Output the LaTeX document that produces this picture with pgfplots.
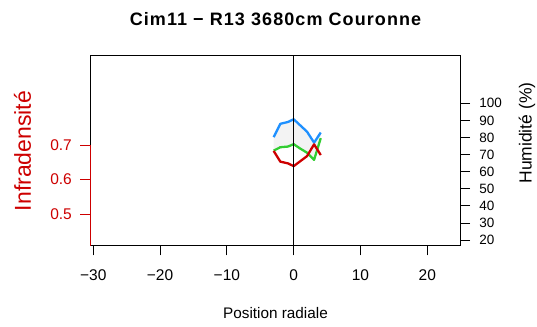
\documentclass[border=0pt]{standalone}
\usepackage{pgfplots}
\pgfplotsset{compat=1.18}
\usepackage{fontspec}
\setmainfont{Liberation Sans}
\definecolor{rred}{HTML}{CD0000}
\definecolor{rblue}{HTML}{1E90FF}
\definecolor{rgreen}{HTML}{32CD32}
\definecolor{fillgray}{HTML}{F3F3F3}
\begin{document}
\begin{tikzpicture}[x=1pt,y=1pt]
\path[use as bounding box] (0,0) rectangle (537,326);
% humidity axis (right)
\begin{axis}[
  at={(90pt,80pt)}, anchor=south west,
  scale only axis, width=370.7pt, height=190pt,
  xmin=-30.49, xmax=25, ymin=16.5, ymax=127.7,
  axis line style={black, line width=1pt},
  xtick={-30,-20,-10,0,10,20},
  xticklabels={−30,−20,−10,0,10,20},
  xtick pos=bottom,
  ytick={20,30,40,50,60,70,80,90,100},
  yticklabels={20,30,40,50,60,70,80,90,100},
  ytick pos=right,
  tick align=outside, major tick length=9.5pt,
  tick style={black, line width=0.8pt},
  xticklabel style={font=\fontsize{15.5}{16}\selectfont, inner sep=1pt, yshift=-13pt},
  yticklabel style={font=\fontsize{13.5}{14}\selectfont, inner sep=1pt, xshift=8pt},
]
\addplot[fill=fillgray, draw=none] coordinates {
  (-3,80.2) (-2,88.0) (-0.85,89.1) (0,90.7) (0.9,87.4) (2,83.4) (3.05,77.0) (4.05,82.9)
  (4.05,79.6) (3.05,66.9) (2,71.1) (0.9,73.7) (0,76.1) (-0.85,74.7) (-2,74.3) (-3,72.3)
} -- cycle;
\addplot[rblue, line width=2.3pt, line join=round] coordinates {
  (-3,80.2) (-2,88.0) (-0.85,89.1) (0,90.7) (0.9,87.4) (2,83.4) (3.05,77.0) (4.05,82.9)
};
\addplot[rgreen, line width=2.3pt, line join=round] coordinates {
  (-3,72.3) (-2,74.3) (-0.85,74.7) (0,76.1) (0.9,73.7) (2,71.1) (3.05,66.9) (4.05,79.6)
};
\end{axis}
% infradensity axis (left)
\begin{axis}[
  at={(90pt,80pt)}, anchor=south west,
  scale only axis, width=370.7pt, height=190pt,
  xmin=-30.49, xmax=25, ymin=0.4085, ymax=0.957,
  axis x line=none, axis y line*=left,
  y axis line style={draw=none},
  ytick={0.5,0.6,0.7},
  yticklabels={0.5,0.6,0.7},
  tick align=outside, major tick length=10pt,
  y tick style={rred, line width=0.8pt},
  yticklabel style={rred, font=\fontsize{15.5}{16}\selectfont, inner sep=1pt, xshift=-7pt},
  clip=false,
]
\draw[rred, line width=1pt] (axis cs:-30.49,0.7) -- (axis cs:-30.49,0.4085);
\addplot[rred, line width=2.3pt, line join=round] coordinates {
  (-3,0.683) (-2,0.652) (-0.85,0.647) (0,0.639) (0.9,0.652) (2,0.668) (3.05,0.702) (4.05,0.671)
};
\addplot[black, line width=1.1pt] coordinates {(0,0.4085) (0,0.957)};
\end{axis}
\node[font=\bfseries\fontsize{18}{19}\selectfont\addfontfeature{LetterSpace=6}] at (275.5,307) {Cim11 − R13 3680cm Couronne};
\node[font=\fontsize{15.3}{16}\selectfont] at (275.5,13) {Position radiale};
\node[rotate=90, text=rred, font=\fontsize{23}{24}\selectfont] at (22.5,175) {Infradensité};
\node[rotate=90, font=\fontsize{17.5}{18}\selectfont] at (527,193) {Humidité (\%)};
\end{tikzpicture}
\end{document}
